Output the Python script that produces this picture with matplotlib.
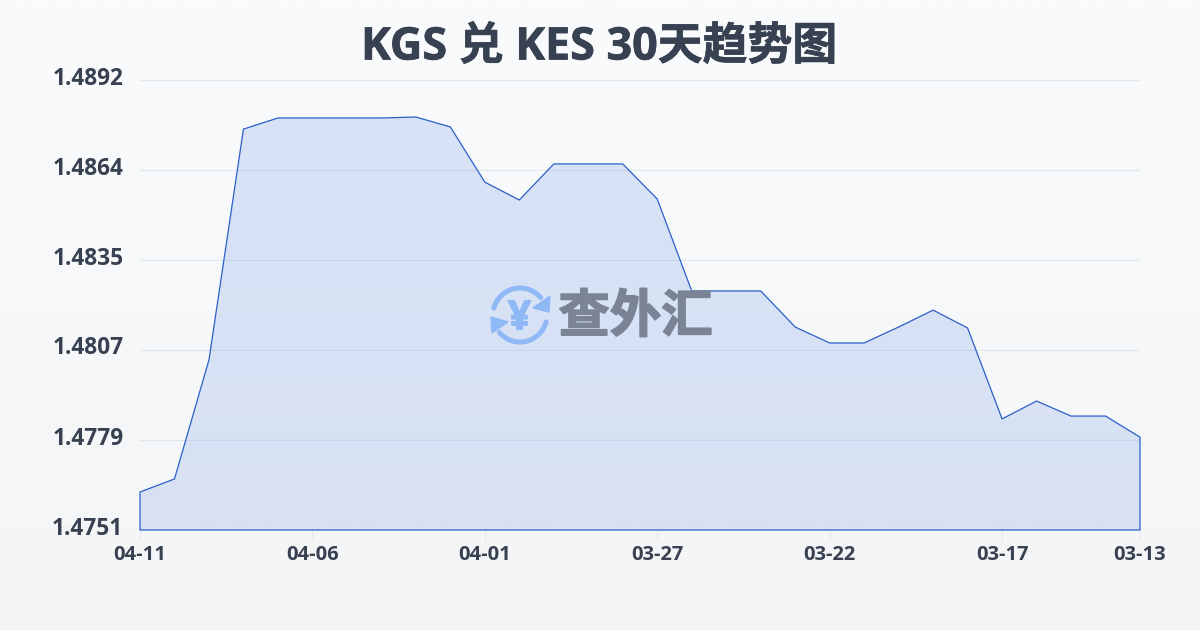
import numpy as np
import matplotlib
matplotlib.use("Agg")
import matplotlib.pyplot as plt
import matplotlib.patheffects as pe
from matplotlib.patches import Arc, Polygon
from matplotlib.transforms import ScaledTranslation

plt.rcParams["font.family"] = ["Open Sans", "Noto Sans CJK SC", "DejaVu Sans"]

# values, newest day first as in the chart
rates = [
    1.47629, 1.47670, 1.48043, 1.48766, 1.48801, 1.48801, 1.48801, 1.48801,
    1.48804, 1.48773, 1.48600, 1.48544, 1.48657, 1.48657, 1.48657, 1.48547,
    1.48259, 1.48259, 1.48259, 1.48146, 1.48096, 1.48096, 1.48146, 1.48199,
    1.48143, 1.47858, 1.47914, 1.47867, 1.47867, 1.47801,
]
x_tick_idx = [0, 5, 10, 15, 20, 25, 29]
x_tick_labels = ["04-11", "04-06", "04-01", "03-27", "03-22", "03-17", "03-13"]
y_tick_labels = ["1.4751", "1.4779", "1.4807", "1.4835", "1.4864", "1.4892"]

TEXT = "#374151"
LINE = "#2b60c8"
W, H = 1200, 630

fig = plt.figure(figsize=(W / 100, H / 100), dpi=100)

# page background gradient
bg = fig.add_axes((0, 0, 1, 1), zorder=0)
bg.axis("off")
grad = np.linspace(0, 1, 256)[:, None, None]
top_col = np.array([249, 251, 252]) / 255
bot_col = np.array([243, 245, 247]) / 255
bg.imshow(top_col + (bot_col - top_col) * grad, aspect="auto", extent=(0, 1, 0, 1))

ax = fig.add_axes((140 / W, 1 - 530 / H, 1000 / W, 450 / H), zorder=1)
ax.patch.set_visible(False)

x = np.arange(len(rates))
y_min, y_max = 1.4751, 1.4892
y_ticks = np.linspace(y_min, y_max, len(y_tick_labels))

# area with a soft vertical gradient, clipped to the series
outline = np.column_stack([
    np.r_[x[0], x, x[-1]],
    np.r_[y_min, rates, y_min],
])
rgba = np.zeros((256, 1, 4))
rgba[..., :3] = matplotlib.colors.to_rgb("#3a6fe2")
rgba[..., 3] = np.linspace(0.17, 0.15, 256)[:, None]
im = ax.imshow(rgba, aspect="auto", zorder=2,
               extent=(x[0], x[-1], y_min, y_max), origin="upper")
im.set_clip_path(Polygon(outline, closed=True, transform=ax.transData))
ax.set_xlim(0, len(rates) - 1)
ax.set_ylim(y_min, y_max)
ax.add_patch(Polygon(outline, closed=True, facecolor="none", edgecolor=LINE,
                     linewidth=0.9, zorder=3, clip_on=False))

ax.set_yticks(y_ticks, y_tick_labels)
ax.set_xticks(x_tick_idx, x_tick_labels)
ax.grid(True, axis="y", color="#e3e7ee", linewidth=0.8, zorder=1)
ax.set_axisbelow(True)
for side in ax.spines.values():
    side.set_visible(False)
ax.tick_params(axis="y", length=0, pad=12, labelsize=16.3, labelcolor=TEXT)
ax.tick_params(axis="x", length=7, width=0.8, color="#e3e7ee", pad=4,
               labelsize=14.5, labelcolor=TEXT)
for lab in ax.get_xticklabels() + ax.get_yticklabels():
    lab.set_fontweight("bold")
for lab in ax.get_yticklabels():
    lab.set_verticalalignment("center")
    lab.set_transform(lab.get_transform() + ScaledTranslation(0, 1.5 / 100, fig.dpi_scale_trans))

fig.text(599 / W, 1 - 48 / H, "KGS 兑 KES 30天趋势图", ha="center", va="center",
         fontsize=32.3, fontweight="bold", color=TEXT,
         path_effects=[pe.withStroke(linewidth=0.5, foreground=TEXT)])

# watermark logo, in pixel coordinates
logo = fig.add_axes((0, 0, 1, 1), zorder=4)
logo.axis("off")
logo.set_xlim(0, W)
logo.set_ylim(H, 0)
ICON = "#8fb8f6"
logo.add_patch(Arc((520, 315), 54, 54, theta1=195, theta2=320, color=ICON, lw=3.6, capstyle="round"))
logo.add_patch(Arc((520, 315), 54, 54, theta1=15, theta2=140, color=ICON, lw=3.6, capstyle="round"))
logo.add_patch(Polygon([(550, 296), (549, 312), (533, 308)], closed=True, color=ICON))
logo.add_patch(Polygon([(491, 317), (508, 322), (492, 333)], closed=True, color=ICON))
logo.text(519.5, 319, "¥", ha="center", va="center", fontsize=29, fontweight="bold",
          color=ICON, family=["Open Sans"],
          path_effects=[pe.withStroke(linewidth=1.0, foreground=ICON)])
logo.text(635.5, 316.5, "查外汇", ha="center", va="center", fontsize=37, fontweight="bold",
          color="#7a8496", family=["Noto Sans CJK SC"],
          path_effects=[pe.withStroke(linewidth=1.2, foreground="#7a8496")])

fig.savefig("out.png", dpi=100)
